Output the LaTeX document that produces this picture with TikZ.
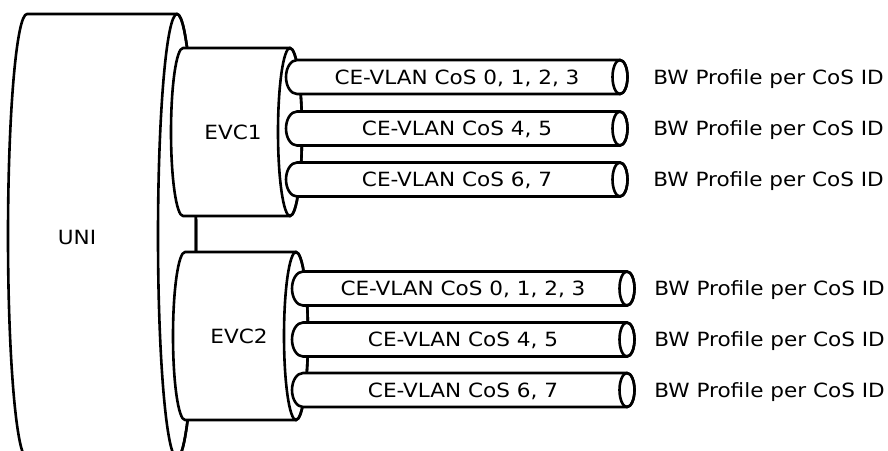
\documentclass[tikz,border=0pt]{standalone}
\usepackage{fontspec}
\setmainfont[FakeStretch=1.1]{DejaVu Sans}

\begin{document}
\begin{tikzpicture}[
    x=0.5pt,
    y=-0.5pt,
    line width=1.3pt,
    body/.style={
        draw,
        fill=white,
        line join=round
    },
    txt/.style={
        font=\fontsize{9.8}{12}\selectfont,
        inner sep=0pt
    }
]
    \useasboundingbox (0,0) rectangle (888,450);
    \clip (0,0) rectangle (888,450);

    \draw[body] (177,14) -- (27,14) arc[start angle=270, end angle=90, x radius=19, y radius=222] -- (177,458) arc[start angle=90, end angle=-90, x radius=19, y radius=222] -- cycle;
    \draw (177,236) ellipse[x radius=19, y radius=222];
    \node[txt] (uni) at (77,237) {UNI};

    \draw[body] (290,48) -- (183,48) arc[start angle=270, end angle=90, x radius=12, y radius=84] -- (290,216) arc[start angle=90, end angle=-90, x radius=12, y radius=84] -- cycle;
    \draw (290,132) ellipse[x radius=12, y radius=84];
    \node[txt] (evc1) at (233,132) {EVC1};

    \foreach \yc/\txt [count=\i] in {77/{CE-VLAN CoS 0, 1, 2, 3}, 128.5/{CE-VLAN CoS 4, 5}, 179.5/{CE-VLAN CoS 6, 7}} {
        \draw[body] (620,\yc-17) -- (297,\yc-17) arc[start angle=270, end angle=90, x radius=11, y radius=17] -- (620,\yc+17) arc[start angle=90, end angle=-90, x radius=7.5, y radius=17] -- cycle;
        \draw (620,\yc) ellipse[x radius=7.5, y radius=17];
        \node[txt, anchor=base] (evc1cos\i) at (457,\yc+7) {\txt};
        \node[txt, anchor=base west] (evc1bw\i) at (652,\yc+7) {BW Profile per CoS ID};
    }

    \draw[body] (296,252) -- (185,252) arc[start angle=270, end angle=90, x radius=12, y radius=84] -- (296,420) arc[start angle=90, end angle=-90, x radius=12, y radius=84] -- cycle;
    \draw (296,336) ellipse[x radius=12, y radius=84];
    \node[txt] (evc2) at (239,336) {EVC2};

    \foreach \yc/\txt [count=\i] in {288.5/{CE-VLAN CoS 0, 1, 2, 3}, 339.5/{CE-VLAN CoS 4, 5}, 390/{CE-VLAN CoS 6, 7}} {
        \draw[body] (627,\yc-17) -- (303,\yc-17) arc[start angle=270, end angle=90, x radius=11, y radius=17] -- (627,\yc+17) arc[start angle=90, end angle=-90, x radius=7.5, y radius=17] -- cycle;
        \draw (627,\yc) ellipse[x radius=7.5, y radius=17];
        \node[txt, anchor=base] (evc2cos\i) at (463,\yc+7) {\txt};
        \node[txt, anchor=base west] (evc2bw\i) at (653,\yc+7) {BW Profile per CoS ID};
    }
\end{tikzpicture}
\end{document}
